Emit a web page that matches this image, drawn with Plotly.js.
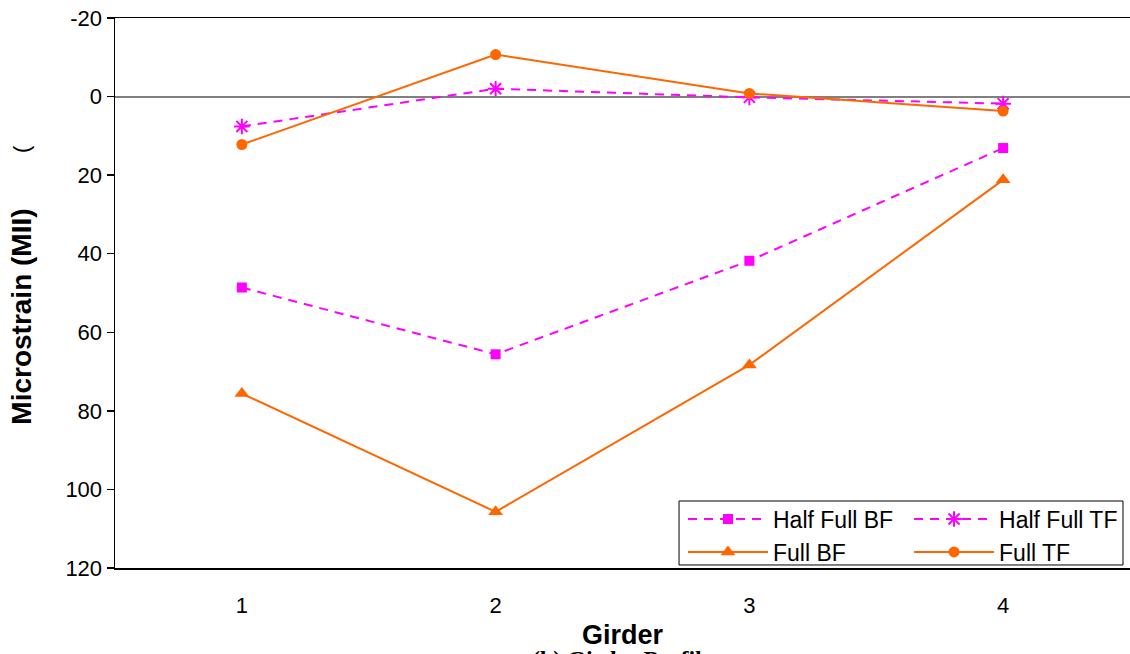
<!DOCTYPE html>
<html>
<head>
<meta charset="utf-8">
<script src="https://cdn.plot.ly/plotly-3.0.1.min.js"></script>
<style>html,body{margin:0;padding:0;background:#fff;}#chart{width:1130px;height:654px;}</style>
</head>
<body>
<div id="chart"></div>
<script>
const girders = [1, 2, 3, 4];
const girderLabels = ['1', '2', '3', '4'];
const halfFullBF = [48.6, 65.6, 41.8, 13.1];
const halfFullTF = [7.6, -2.0, 0.2, 1.8];
const fullBF = [75.6, 105.7, 68.3, 21.2];
const fullTF = [12.2, -10.7, -0.8, 3.7];
const yTicks = [-20, 0, 20, 40, 60, 80, 100, 120];
const yTickLabels = ['-20', '0', '20', '40', '60', '80', '100', '120'];

const magenta = '#FF00FF';
const orange = '#FF6600';
const font = 'Liberation Sans, Arial, sans-serif';

const traces = [
  {x: girders, y: halfFullBF, name: 'Half Full BF', mode: 'lines+markers', legend: 'legend',
   line: {color: magenta, width: 2, dash: '9px,7px'},
   marker: {symbol: 'square', size: 10, color: magenta}},
  {x: girders, y: halfFullTF, name: 'Half Full TF', mode: 'lines+markers', legend: 'legend2',
   line: {color: magenta, width: 2, dash: '9px,7px'},
   marker: {symbol: 'asterisk-open', size: 13, color: magenta, line: {color: magenta, width: 2}}},
  {x: girders, y: fullBF, name: 'Full BF', mode: 'lines+markers', legend: 'legend',
   line: {color: orange, width: 2},
   marker: {symbol: 'triangle-up', size: 13, color: orange}},
  {x: girders, y: fullTF, name: 'Full TF', mode: 'lines+markers', legend: 'legend2',
   line: {color: orange, width: 2},
   marker: {symbol: 'circle', size: 11, color: orange}}
];

const legendCommon = {
  orientation: 'v', xanchor: 'left', y: 0.128, yanchor: 'top',
  borderwidth: 0, bgcolor: 'rgba(0,0,0,0)',
  font: {family: font, size: 23, color: '#000'},
  itemwidth: 80, tracegroupgap: 0
};

const layout = {
  width: 1130, height: 654,
  margin: {l: 115, r: 0, t: 18, b: 86},
  paper_bgcolor: '#fff', plot_bgcolor: '#fff',
  font: {family: font, size: 22, color: '#000'},
  showlegend: true,
  legend: Object.assign({}, legendCommon, {x: 0.5596}),
  legend2: Object.assign({}, legendCommon, {x: 0.7823}),
  shapes: [
    {type: 'rect', xref: 'paper', yref: 'paper', x0: 0.5557, x1: 0.9931, y0: 0.0055, y1: 0.1218,
     line: {color: '#000', width: 1}, fillcolor: '#fff', layer: 'above'}
  ],
  xaxis: {
    range: [0.5, 4.5], tickvals: girders, ticktext: girderLabels,
    showgrid: false, zeroline: false, showline: true, linecolor: '#000', linewidth: 1.5,
    mirror: true, ticks: '', ticklabelstandoff: 17,
    tickfont: {family: font, size: 22, color: '#000'},
    title: {text: '<b>Girder</b>', font: {family: font, size: 27, color: '#000'}, standoff: 8}
  },
  yaxis: {
    range: [120, -20], tickvals: yTicks, ticktext: yTickLabels,
    showgrid: false, showline: true, linecolor: '#000', linewidth: 1.5,
    zeroline: true, zerolinecolor: '#808080', zerolinewidth: 2,
    ticks: 'outside', ticklen: 7, tickcolor: '#000', tickwidth: 1.5,
    tickfont: {family: font, size: 22, color: '#000'}
  },
  annotations: [
    {text: '<b>Microstrain (MII)</b>', xref: 'paper', yref: 'paper', x: -0.0916, y: 0.457,
     xanchor: 'center', yanchor: 'middle', textangle: -90, showarrow: false,
     font: {family: font, size: 28, color: '#000'}},
    {text: '(', xref: 'paper', yref: 'paper', x: -0.0916, y: 0.762,
     xanchor: 'center', yanchor: 'middle', textangle: -90, showarrow: false,
     font: {family: font, size: 22, color: '#000'}},
    {text: '<b>(b) Girder Profile</b>', xref: 'paper', yref: 'paper', x: 0.5, y: -0.138,
     xanchor: 'center', yanchor: 'top', showarrow: false,
     font: {family: 'Liberation Serif, Times New Roman, serif', size: 24, color: '#000'}}
  ]
};

Plotly.newPlot('chart', traces, layout, {displayModeBar: false, staticPlot: true});
</script>
</body>
</html>
